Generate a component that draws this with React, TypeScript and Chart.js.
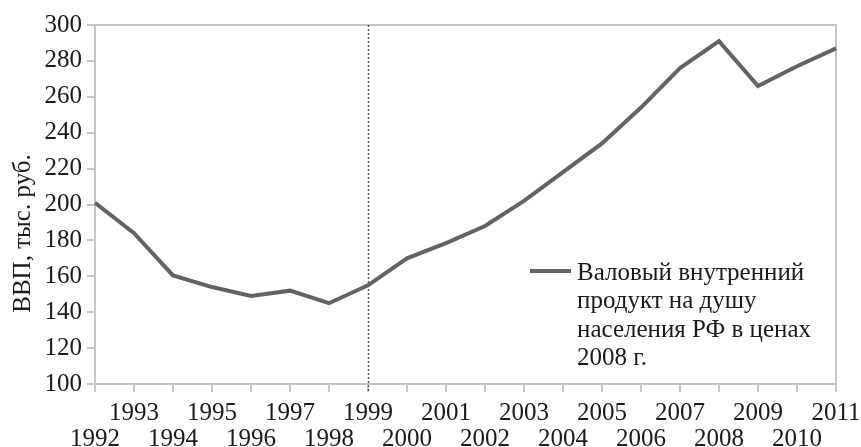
import React, { useEffect, useRef } from "react";
import { Chart, registerables } from "chart.js";

Chart.register(...registerables);

const years = ["1992","1993","1994","1995","1996","1997","1998","1999","2000","2001","2002","2003","2004","2005","2006","2007","2008","2009","2010","2011"];
const gdpPerCapita = [201, 184, 160.5, 154, 149, 152, 145, 155, 170, 178.5, 188, 202, 218, 234, 254, 276, 291, 266, 277, 287];
const legendLines = ["Валовый внутренний", "продукт на душу", "населения РФ в ценах", "2008 г."];
const yTitle = "ВВП, тыс. руб.";
const markerYear = "1999";

const FONT = "'Liberation Serif', 'Times New Roman', serif";
const FS = 25;
const AXIS_GRAY = "#c4c4c4";
const LINE_GRAY = "#636363";
const TEXT = "#1a1a1a";

const overlayPlugin = {
  id: "overlay",
  beforeDatasetsDraw(chart: any) {
    const { ctx, chartArea, scales } = chart;
    ctx.save();
    ctx.strokeStyle = AXIS_GRAY;
    ctx.lineWidth = 2;
    ctx.beginPath();
    ctx.moveTo(chartArea.left, chartArea.top);
    ctx.lineTo(chartArea.right, chartArea.top);
    ctx.lineTo(chartArea.right, chartArea.bottom);
    ctx.stroke();
    const idx = years.indexOf(markerYear);
    const x = Math.round(scales.x.getPixelForValue(idx)) + 0.5;
    ctx.strokeStyle = "#555";
    ctx.lineWidth = 1.5;
    ctx.setLineDash([2, 2]);
    ctx.beginPath();
    ctx.moveTo(x, chartArea.top);
    ctx.lineTo(x, chartArea.bottom + 8);
    ctx.stroke();
    ctx.restore();
  },
  afterDraw(chart: any) {
    const { ctx, chartArea } = chart;
    ctx.save();
    ctx.fillStyle = TEXT;
    ctx.font = `${FS}px ${FONT}`;
    ctx.textAlign = "center";
    ctx.textBaseline = "middle";
    ctx.translate(23, (chartArea.top + chartArea.bottom) / 2 + 29);
    ctx.rotate(-Math.PI / 2);
    ctx.fillText(yTitle, 0, 0);
    ctx.restore();

    ctx.save();
    const lx0 = chartArea.right - 306;
    const lx1 = chartArea.right - 265;
    const ly = chartArea.bottom - 113;
    ctx.strokeStyle = LINE_GRAY;
    ctx.lineWidth = 4;
    ctx.beginPath();
    ctx.moveTo(lx0, ly);
    ctx.lineTo(lx1, ly);
    ctx.stroke();
    ctx.fillStyle = TEXT;
    ctx.font = `${FS}px ${FONT}`;
    ctx.textAlign = "left";
    ctx.textBaseline = "middle";
    legendLines.forEach((t, i) => {
      ctx.fillText(t, chartArea.right - 259, ly + 2 + i * 28.5);
    });
    ctx.restore();
  },
};

export default function App() {
  const ref = useRef<HTMLCanvasElement>(null);
  useEffect(() => {
    document.body.style.margin = "0";
    const labels = years.map((y, i) => (i % 2 === 0 ? ["", y] : [y, ""]));
    const chart = new Chart(ref.current!, {
      type: "line",
      data: {
        labels,
        datasets: [
          {
            label: legendLines.join(" "),
            data: gdpPerCapita,
            borderColor: LINE_GRAY,
            borderWidth: 4,
            pointRadius: 0,
            tension: 0,
            fill: false,
          },
        ],
      },
      options: {
        animation: false,
        responsive: false,
        maintainAspectRatio: false,
        layout: { padding: { top: 25, right: 25, left: 0, bottom: 0 } },
        plugins: { legend: { display: false }, tooltip: { enabled: false } },
        scales: {
          x: {
            type: "category",
            offset: false,
            border: { display: true, color: AXIS_GRAY, width: 2 },
            grid: { display: true, drawOnChartArea: false, drawTicks: true, tickLength: 8, color: AXIS_GRAY, lineWidth: 2 },
            ticks: {
              autoSkip: false,
              maxRotation: 0,
              minRotation: 0,
              padding: 8,
              color: TEXT,
              font: { family: FONT, size: FS, lineHeight: 1.04 },
            },
            afterFit: (s: any) => {
              s.height = 63;
              s.paddingLeft = 0;
              s.paddingRight = 0;
            },
          },
          y: {
            min: 100,
            max: 300,
            border: { display: true, color: AXIS_GRAY, width: 2 },
            grid: { display: true, drawOnChartArea: false, drawTicks: true, tickLength: 8, color: AXIS_GRAY, lineWidth: 2 },
            ticks: {
              stepSize: 20,
              padding: 5,
              color: TEXT,
              font: { family: FONT, size: FS },
            },
            afterFit: (s: any) => {
              s.width = 95;
              s.paddingTop = 0;
              s.paddingBottom = 0;
            },
          },
        },
      },
      plugins: [overlayPlugin],
    });
    return () => chart.destroy();
  }, []);
  return (
    <div style={{ width: 861, height: 447 }}>
      <canvas ref={ref} width={861} height={447} style={{ display: "block" }} />
    </div>
  );
}
